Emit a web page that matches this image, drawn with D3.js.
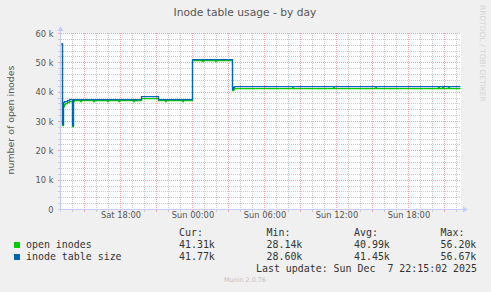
<!DOCTYPE html>
<html><head><meta charset="utf-8">
<script src="https://cdn.jsdelivr.net/npm/d3@7"></script>
<style>
html,body{margin:0;padding:0;background:#f0f0f0;}
svg{display:block;}
text{white-space:pre;}
</style></head><body><svg id="c" width="491" height="292"></svg>
<script>
const chartTitle = "Inode table usage - by day";
const yLabel = "number of open inodes";
const yTicks = [0, 10000, 20000, 30000, 40000, 50000, 60000];
const yTickLabels = ["0", "10 k", "20 k", "30 k", "40 k", "50 k", "60 k"];
const xTickTimes = ["2025-12-06T18:00", "2025-12-07T00:00", "2025-12-07T06:00", "2025-12-07T12:00", "2025-12-07T18:00"];
const xTickLabels = ["Sat 18:00", "Sun 00:00", "Sun 06:00", "Sun 12:00", "Sun 18:00"];
const timeRange = ["2025-12-06T13:05", "2025-12-07T22:25"];

const times = [
  "2025-12-06T13:05","2025-12-06T13:10","2025-12-06T13:15","2025-12-06T13:20","2025-12-06T13:25",
  "2025-12-06T13:35","2025-12-06T13:45","2025-12-06T14:00","2025-12-06T14:05","2025-12-06T14:10",
  "2025-12-06T14:40","2025-12-06T14:45","2025-12-06T15:45","2025-12-06T15:50","2025-12-06T16:55",
  "2025-12-06T17:00","2025-12-06T17:50","2025-12-06T17:55","2025-12-06T19:05","2025-12-06T19:10",
  "2025-12-06T19:45","2025-12-06T21:10","2025-12-06T21:45","2025-12-06T21:50","2025-12-06T23:10",
  "2025-12-06T23:15","2025-12-07T00:00","2025-12-07T00:50","2025-12-07T00:55","2025-12-07T01:55",
  "2025-12-07T02:00","2025-12-07T03:20","2025-12-07T03:25","2025-12-07T03:30","2025-12-07T08:20",
  "2025-12-07T08:25","2025-12-07T11:45","2025-12-07T11:50","2025-12-07T15:15","2025-12-07T15:20",
  "2025-12-07T20:30","2025-12-07T20:35","2025-12-07T20:50","2025-12-07T20:55","2025-12-07T21:20",
  "2025-12-07T21:25","2025-12-07T22:20"
];
const openInodes = [
  56.20, 28.70, 35.00, 35.70, 36.20,
  36.60, 36.90, 28.14, 36.90, 37.10,
  36.80, 37.10, 36.80, 37.10, 36.80,
  37.10, 36.80, 37.10, 36.80, 37.10,
  37.70, 37.10, 36.80, 37.10, 36.80,
  37.10, 50.70, 50.50, 50.70, 50.50,
  50.70, 40.60, 41.00, 41.30, 41.60,
  41.30, 41.60, 41.30, 41.60, 41.30,
  41.60, 41.30, 41.60, 41.30, 41.60,
  41.30, 41.31
];
const inodeTableSize = [
  56.67, 29.00, 36.50, 36.70, 36.90,
  37.20, 37.40, 28.60, 37.50, 37.50,
  37.50, 37.50, 37.50, 37.50, 37.50,
  37.50, 37.50, 37.50, 37.50, 37.50,
  38.50, 37.50, 37.50, 37.50, 37.50,
  37.50, 51.10, 51.10, 51.10, 51.10,
  51.10, 40.90, 41.60, 41.77, 41.77,
  41.77, 41.77, 41.77, 41.77, 41.77,
  41.77, 41.77, 41.77, 41.77, 41.77,
  41.77, 41.77
];
const seriesNames = ["open inodes", "inode table size"];
const seriesColors = ["#00CC00", "#0066B3"];
const statHeaders = ["Cur:", "Min:", "Avg:", "Max:"];
const statsOpen = ["41.31k", "28.14k", "40.99k", "56.20k"];
const statsSize = ["41.77k", "28.60k", "41.45k", "56.67k"];
const lastUpdate = "Last update: Sun Dec  7 22:15:02 2025";
const footer = "Munin 2.0.76";
const sideText = "RRDTOOL / TOBI OETIKER";

const parse = d3.timeParse("%Y-%m-%dT%H:%M");
const svg = d3.select("#c");
const L = 61, R = 461, T = 33.5, B = 209.5;
const x = d3.scaleTime().domain(timeRange.map(parse)).range([L, R]);
const y = d3.scaleLinear().domain([0, 60000]).range([B, T]);
const snap = v => Math.round(v - 0.5) + 0.5;

svg.append("rect").attr("x", L).attr("y", 33).attr("width", R - L).attr("height", B - 33).attr("fill", "#fff");

// grid
const g = svg.append("g");
const hourTicks = d3.timeHour.range(d3.timeHour.ceil(x.domain()[0]), x.domain()[1]);
hourTicks.forEach(t => {
  const major = t.getHours() % 3 === 0;
  const xx = snap(x(t));
  g.append("line").attr("x1", xx).attr("x2", xx).attr("y1", 33).attr("y2", B)
    .attr("stroke", major ? "#f4a4a4" : "#cbcbcb").attr("stroke-dasharray", "1,1");
  g.append("line").attr("x1", xx).attr("x2", xx).attr("y1", B).attr("y2", B + 2.5)
    .attr("stroke", major ? "#f4a4a4" : "#cbcbcb");
});
d3.range(2000, 60001, 2000).forEach(v => {
  const major = v % 10000 === 0;
  const yy = snap(y(v));
  g.append("line").attr("x1", L).attr("x2", R).attr("y1", yy).attr("y2", yy)
    .attr("stroke", major ? "#f4a4a4" : "#cbcbcb").attr("stroke-dasharray", "1,1");
  g.append("line").attr("x1", L - 3).attr("x2", L).attr("y1", yy).attr("y2", yy)
    .attr("stroke", major ? "#f4a4a4" : "#cbcbcb");
});

// data lines (snapped to pixel rows like rrdtool)
const tParsed = times.map(parse);
const line = d3.line().curve(d3.curveStepAfter)
  .x(d => Math.round(x(d[0])) + 0.5)
  .y(d => Math.floor(y(d[1] * 1000)) + 0.5);
[openInodes, inodeTableSize].forEach((vals, i) => {
  svg.append("path").datum(tParsed.map((t, j) => [t, vals[j]]))
    .attr("d", line).attr("fill", "none").attr("stroke", seriesColors[i])
    .attr("stroke-width", 1.25);
});

// axes lines and arrows
const axisColor = "#c6cdf5";
svg.append("line").attr("x1", 60.5).attr("x2", 60.5).attr("y1", B + 2).attr("y2", 29).attr("stroke", axisColor);
svg.append("line").attr("x1", 58).attr("x2", 464).attr("y1", B).attr("y2", B).attr("stroke", axisColor);
svg.append("path").attr("d", "M57.5,31 L63.5,31 L60.5,26 Z").attr("fill", axisColor);
svg.append("path").attr("d", "M463,206.5 L463,212.5 L468,209.5 Z").attr("fill", axisColor);

// y axis labels
const yAxis = d3.axisLeft(y).tickValues(yTicks).tickFormat((d, i) => yTickLabels[i]).tickSize(0).tickPadding(7);
const ya = svg.append("g").attr("transform", "translate(60.5,0)").call(yAxis);
ya.select(".domain").remove();
ya.selectAll("text").attr("font-family", "DejaVu Sans").attr("font-size", 8.3).attr("fill", "#555");

// x axis labels
const xAxis = d3.axisBottom(x).tickValues(xTickTimes.map(parse)).tickFormat((d, i) => xTickLabels[i]).tickSize(0).tickPadding(3);
const xa = svg.append("g").attr("transform", `translate(0.5,${B})`).call(xAxis);
xa.select(".domain").remove();
xa.selectAll("text").attr("font-family", "DejaVu Sans").attr("font-size", 8.3).attr("fill", "#555");

// title
svg.append("text").attr("x", 245).attr("y", 15.7).attr("text-anchor", "middle")
  .attr("font-family", "DejaVu Sans").attr("font-size", 10.7).attr("fill", "#555").text(chartTitle);
// y label
svg.append("text").attr("transform", "translate(14,120) rotate(-90)").attr("text-anchor", "middle")
  .attr("font-family", "DejaVu Sans").attr("font-size", 9.4).attr("fill", "#555").text(yLabel);
// side text
svg.append("text").attr("transform", "translate(480,5) rotate(90)")
  .attr("font-family", "DejaVu Sans").attr("font-size", 7.5).attr("fill", "#d4d4d4").text(sideText);

// legend
const mono = "DejaVu Sans Mono";
const colX = [179, 266.5, 354, 440.5];
statHeaders.forEach((h, i) => {
  svg.append("text").attr("x", colX[i]).attr("y", 236).attr("font-family", mono).attr("font-size", 9.94).attr("fill", "#333").text(h);
});
[statsOpen, statsSize].forEach((stats, r) => {
  const yy = 248 + r * 12;
  svg.append("rect").attr("x", 14).attr("y", 242 + r * 12).attr("width", 6).attr("height", 6).attr("fill", seriesColors[r]);
  svg.append("text").attr("x", 26).attr("y", yy).attr("font-family", mono).attr("font-size", 9.94).attr("fill", "#333").text(seriesNames[r]);
  stats.forEach((s, i) => {
    svg.append("text").attr("x", colX[i]).attr("y", yy).attr("font-family", mono).attr("font-size", 9.94).attr("fill", "#333").text(s);
  });
});
svg.append("text").attr("x", 477).attr("y", 272).attr("text-anchor", "end").attr("font-family", mono).attr("font-size", 9.94).attr("fill", "#333").text(lastUpdate);
svg.append("text").attr("x", 245).attr("y", 282).attr("text-anchor", "middle").attr("font-family", "DejaVu Sans").attr("font-size", 6.4).attr("fill", "#c0c0c0").text(footer);
</script></body></html>
